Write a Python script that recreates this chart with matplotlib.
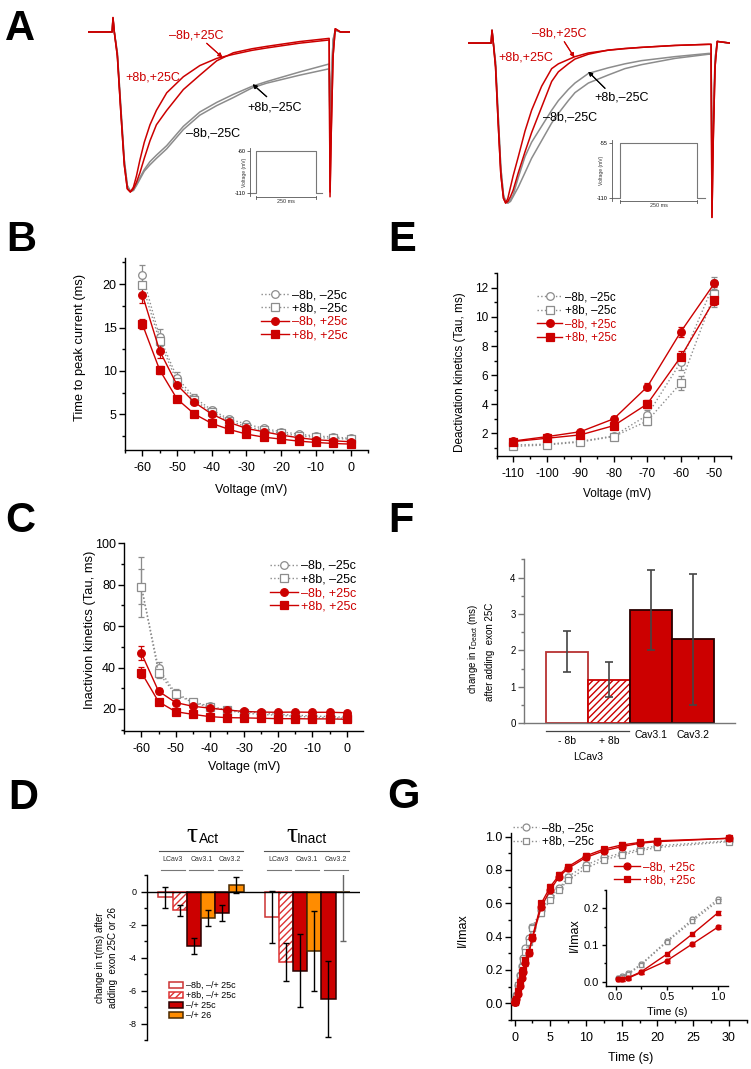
import numpy as np
import matplotlib.pyplot as plt
from matplotlib.ticker import MultipleLocator, FormatStrFormatter
from matplotlib.patches import Patch

plt.rcParams['font.family'] = ['Liberation Sans', 'DejaVu Sans']
plt.rcParams['axes.unicode_minus'] = False
plt.rcParams['mathtext.fontset'] = 'custom'
plt.rcParams['mathtext.rm'] = 'Liberation Sans'
plt.rcParams['mathtext.it'] = 'Liberation Sans:italic'
plt.rcParams['hatch.linewidth'] = 1.0

RED = '#cc0000'
GRAY = '#8c8c8c'
ORANGE = '#ff8c00'

# ---------------- data ----------------
# A: current traces (time in ms, normalised current)
a1_time = [-29, -1, 0, 1.5, 5, 9, 13, 16.5, 20, 23.5, 27, 31, 36, 42.6, 50, 61.9, 81, 100,
           119.5, 138.6, 160, 177, 215, 249, 250, 251.5, 253.5, 256, 262, 273]
a1_m8_m25 = [0, 0, 0.08, 0, -0.13, -0.47, -0.8, -0.96, -0.995, -0.99, -0.96, -0.92, -0.87,
             -0.83, -0.79, -0.73, -0.61, -0.52, -0.46, -0.41, -0.35, -0.32, -0.27, -0.23,
             -0.6, -0.3, -0.05, 0.01, 0, 0]
a1_p8_m25 = [0, 0, 0.08, 0, -0.13, -0.47, -0.8, -0.96, -0.995, -0.99, -0.95, -0.91, -0.86,
             -0.81, -0.77, -0.71, -0.59, -0.50, -0.44, -0.39, -0.34, -0.31, -0.25, -0.20,
             -0.6, -0.3, -0.05, 0.01, 0, 0]
a1_m8_p25 = [0, 0, 0.09, 0, -0.15, -0.5, -0.83, -0.98, -1.0, -0.98, -0.94, -0.88, -0.79,
             -0.68, -0.58, -0.49, -0.36, -0.27, -0.18, -0.13, -0.105, -0.09, -0.06, -0.04,
             -1.0, -0.6, -0.15, 0.02, 0, 0]
a1_p8_p25 = [0, 0, 0.09, 0, -0.15, -0.5, -0.83, -0.98, -1.0, -0.97, -0.9, -0.8, -0.69,
             -0.58, -0.49, -0.38, -0.28, -0.21, -0.165, -0.14, -0.115, -0.10, -0.07, -0.05,
             -1.03, -0.6, -0.15, 0.02, 0, 0]

a2_time = [-27, -1, 0, 1.5, 4, 7, 10, 13, 15.5, 18, 21, 24, 29.9, 37.5, 45, 56.4, 67.8, 75.4,
           86.7, 94.3, 109.5, 132, 151, 170, 208, 246, 249, 250, 251.5, 253.5, 256, 270]
a2_m8_m25 = [0, 0, 0.08, 0, -0.12, -0.45, -0.78, -0.95, -0.99, -1.0, -0.99, -0.96,
             -0.90, -0.81, -0.72, -0.61, -0.50, -0.44, -0.36, -0.31, -0.25, -0.20,
             -0.16, -0.135, -0.096, -0.07, -0.07, -0.8, -0.5, -0.1, 0.01, 0]
a2_p8_m25 = [0, 0, 0.08, 0, -0.12, -0.45, -0.78, -0.95, -0.99, -1.0, -0.98, -0.95,
             -0.84, -0.71, -0.62, -0.52, -0.42, -0.36, -0.29, -0.25, -0.19, -0.155,
             -0.13, -0.11, -0.085, -0.065, -0.065, -0.8, -0.5, -0.1, 0.01, 0]
a2_m8_p25 = [0, 0, 0.08, 0, -0.15, -0.5, -0.82, -0.97, -1.0, -0.99, -0.96, -0.92,
             -0.81, -0.68, -0.56, -0.40, -0.24, -0.18, -0.13, -0.10, -0.07, -0.044,
             -0.034, -0.027, -0.015, -0.008, -0.008, -1.09, -0.6, -0.15, 0.01, 0]
a2_p8_p25 = [0, 0, 0.08, 0, -0.15, -0.5, -0.82, -0.97, -1.0, -0.97, -0.9, -0.83,
             -0.71, -0.55, -0.42, -0.27, -0.16, -0.13, -0.103, -0.085, -0.062, -0.045,
             -0.035, -0.027, -0.015, -0.008, -0.008, -1.09, -0.6, -0.15, 0.01, 0]

step_time = [-25, 0, 0, 250, 250, 275]
step_v1 = [-110, -110, -60, -60, -110, -110]
step_v2 = [-110, -110, -55, -55, -110, -110]

# B: time to peak
volt_bc = [-60, -55, -50, -45, -40, -35, -30, -25, -20, -15, -10, -5, 0]
b_m8_m25 = [21.1, 13.85, 9.23, 6.92, 5.5, 4.46, 3.88, 3.38, 3.0, 2.73, 2.5, 2.42, 2.23]
b_p8_m25 = [19.9, 13.4, 8.77, 6.65, 5.23, 4.27, 3.58, 3.19, 2.8, 2.54, 2.35, 2.23, 2.15]
b_m8_p25 = [18.77, 12.3, 8.38, 6.38, 5.04, 4.08, 3.38, 3.0, 2.62, 2.31, 2.08, 1.96, 1.85]
b_p8_p25 = [15.38, 10.1, 6.77, 5.04, 3.96, 3.27, 2.73, 2.38, 2.15, 1.92, 1.77, 1.65, 1.58]
b_err_m8_m25 = [1.1, 1.0, 0.6, 0.4, 0.3, 0.3, 0.25, 0.2, 0.2, 0.2, 0.2, 0.2, 0.2]
b_err_p8_m25 = [1.0, 0.9, 0.5, 0.35, 0.3, 0.25, 0.2, 0.2, 0.2, 0.2, 0.2, 0.2, 0.2]
b_err_m8_p25 = [1.0, 0.8, 0.4, 0.3, 0.25, 0.2, 0.2, 0.2, 0.2, 0.2, 0.2, 0.2, 0.2]
b_err_p8_p25 = [0.6, 0.5, 0.3, 0.2, 0.15, 0.15, 0.15, 0.15, 0.15, 0.15, 0.15, 0.15, 0.15]

# C: inactivation kinetics
c_m8_m25 = [79.1, 39.6, 27.6, 23.5, 21.3, 19.6, 18.7, 18.0, 17.4, 17.0, 16.6, 16.3, 16.0]
c_p8_m25 = [79.0, 37.5, 27.0, 23.2, 20.8, 19.3, 18.0, 17.4, 16.9, 16.5, 16.0, 15.7, 15.5]
c_m8_p25 = [46.9, 28.6, 23.1, 21.3, 20.4, 19.5, 18.8, 18.5, 18.4, 18.5, 18.4, 18.4, 18.2]
c_p8_p25 = [37.6, 23.5, 18.7, 17.4, 16.3, 15.8, 15.7, 15.5, 15.3, 15.3, 15.2, 15.2, 15.0]
c_err_m8_m25 = [14.5, 3.0, 1.8, 1.2, 1.0, 0.8, 0.8, 0.8, 0.8, 0.8, 0.8, 0.8, 0.8]
c_err_p8_m25 = [8.5, 2.5, 1.5, 1.0, 0.8, 0.8, 0.8, 0.8, 0.8, 0.8, 0.8, 0.8, 0.8]
c_err_m8_p25 = [3.3, 1.5, 1.0, 0.8, 0.8, 0.8, 0.8, 0.8, 0.8, 0.8, 0.8, 0.8, 0.8]
c_err_p8_p25 = [2.6, 1.2, 0.8, 0.6, 0.6, 0.6, 0.6, 0.6, 0.6, 0.6, 0.6, 0.6, 0.6]

# E: deactivation kinetics
volt_e = [-110, -100, -90, -80, -70, -60, -50]
e_m8_m25 = [1.2, 1.25, 1.45, 1.82, 3.25, 6.9, 12.35]
e_p8_m25 = [1.1, 1.2, 1.4, 1.78, 2.85, 5.45, 11.6]
e_m8_p25 = [1.47, 1.77, 2.11, 3.0, 5.2, 8.98, 12.3]
e_p8_p25 = [1.43, 1.66, 1.89, 2.53, 4.02, 7.26, 11.15]
e_err_m8_m25 = [0.1, 0.1, 0.1, 0.1, 0.35, 0.55, 0.4]
e_err_p8_m25 = [0.1, 0.1, 0.1, 0.1, 0.3, 0.5, 0.9]
e_err_m8_p25 = [0.1, 0.15, 0.15, 0.2, 0.25, 0.35, 0.25]
e_err_p8_p25 = [0.1, 0.1, 0.15, 0.2, 0.3, 0.4, 0.35]

# D: change in tau
d_act = [-0.35, -1.15, -3.3, -1.6, -1.3, 0.4]
d_act_err = [0.65, 0.35, 0.5, 0.5, 0.5, 0.5]
d_inact = [-1.55, -4.25, -4.8, -3.6, -6.5, -0.05]
d_inact_err = [1.6, 1.15, 2.2, 2.4, 2.3, 2.95]
d_groups = ['LCav3', 'Cav3.1', 'Cav3.2']
d_legend = ['\u20138b, \u2013/+ 25c', '+8b, \u2013/+ 25c', '\u2013/+ 25c', '\u2013/+ 26']

# F: change in tau deact
f_labels = ['- 8b', '+ 8b', 'Cav3.1', 'Cav3.2']
f_vals = [1.97, 1.2, 3.1, 2.3]
f_err = [0.55, 0.48, 1.1, 1.8]

# G: recovery
g_time = [0.02, 0.06, 0.125, 0.25, 0.5, 0.75, 1.0, 1.25, 1.5, 2.0, 2.5, 3.75, 5.0,
          6.25, 7.5, 10, 12.5, 15, 17.5, 20, 30]
g_m8_m25 = [0.009, 0.015, 0.023, 0.048, 0.111, 0.170, 0.225, 0.27, 0.33, 0.39, 0.46, 0.56,
            0.64, 0.69, 0.76, 0.83, 0.875, 0.90, 0.925, 0.945, 0.975]
g_p8_m25 = [0.010, 0.013, 0.020, 0.046, 0.108, 0.165, 0.220, 0.26, 0.31, 0.37, 0.45, 0.54,
            0.62, 0.68, 0.74, 0.81, 0.86, 0.89, 0.915, 0.935, 0.97]
g_m8_p25 = [0.007, 0.008, 0.010, 0.025, 0.057, 0.103, 0.149, 0.19, 0.24, 0.30, 0.39, 0.58,
            0.68, 0.76, 0.81, 0.875, 0.915, 0.94, 0.96, 0.97, 0.99]
g_p8_p25 = [0.008, 0.008, 0.011, 0.027, 0.075, 0.130, 0.188, 0.20, 0.26, 0.31, 0.40, 0.60,
            0.70, 0.77, 0.82, 0.885, 0.925, 0.95, 0.965, 0.975, 0.99]
g_err = [0.005] * 7 + [0.015] * 14

SERIES = [('\u20138b, \u201325c', GRAY, 'o', ':', 'white'),
          ('+8b, \u201325c', GRAY, 's', ':', 'white'),
          ('\u20138b, +25c', RED, 'o', '-', RED),
          ('+8b, +25c', RED, 's', '-', RED)]
LEG_COLORS = ['black', 'black', RED, RED]

# ---------------- layout helpers ----------------
W, H = 751, 1069
fig = plt.figure(figsize=(W / 100, H / 100), dpi=100)


def box(x0, y0, x1, y1):
    return [x0 / W, 1 - y1 / H, (x1 - x0) / W, (y1 - y0) / H]


def fp(x, y):
    return (x / W, 1 - y / H)


def ftext(x, y, s, **kw):
    kw.setdefault('ha', 'center')
    kw.setdefault('va', 'center')
    fig.text(x / W, 1 - y / H, s, **kw)


def origin_style(ax, size=9, color='black', pad=4.5):
    for s in ('top', 'right'):
        ax.spines[s].set_visible(False)
    for s in ('left', 'bottom'):
        ax.spines[s].set_linewidth(1.0)
        ax.spines[s].set_color(color)
    ax.tick_params(which='both', direction='out', width=1.0, color=color, labelsize=size)
    ax.tick_params(which='major', length=4)
    ax.tick_params(which='minor', length=2.5)
    ax.tick_params(axis='x', pad=pad)
    ax.tick_params(axis='y', pad=2)


def draw_series(ax, x, ys, errs, ms=5.5, cap=2.5):
    handles = []
    for (label, color, marker, ls, mfc), y, e in zip(SERIES, ys, errs):
        ax.errorbar(x, y, yerr=e, fmt='none', ecolor=color, elinewidth=0.9,
                    capsize=cap, capthick=0.9, zorder=2)
        h, = ax.plot(x, y, ls=ls, color=color, lw=1.0, marker=marker, ms=ms,
                     mfc=mfc, mec=color, mew=0.9, label=label, zorder=3)
        handles.append(h)
    return handles


def legend_at(handles, x, y, fs, colors):
    fig.legend(handles=handles, loc='upper left', bbox_to_anchor=fp(x, y), frameon=False,
               fontsize=fs, handlelength=2.2, handletextpad=0.25, labelspacing=0.12,
               borderpad=0, borderaxespad=0, labelcolor=colors)


def panel_letter(x, y, s):
    fig.text(x / W, 1 - y / H, s, fontsize=30, fontweight='bold', ha='left', va='baseline')


# ---------------- A ----------------
axA1 = fig.add_axes(box(88, 15, 350, 200))
for vals, color in [(a1_m8_m25, GRAY), (a1_p8_m25, GRAY), (a1_m8_p25, RED), (a1_p8_p25, RED)]:
    axA1.plot(a1_time, vals, color=color, lw=1.1)
axA1.set_xlim(-28.8, 273)
axA1.set_ylim(-1.05, 0.106)
axA1.axis('off')

axA2 = fig.add_axes(box(468, 20, 730, 220))
for vals, color in [(a2_m8_m25, GRAY), (a2_p8_m25, GRAY), (a2_m8_p25, RED), (a2_p8_p25, RED)]:
    axA2.plot(a2_time, vals, color=color, lw=1.1)
axA2.set_xlim(-27.3, 270.5)
axA2.set_ylim(-1.106, 0.144)
axA2.axis('off')

for rect, xl, yl, vstep, ticks, lab_x, bar_y in [
        ((250, 148.5, 322, 195.5), (-25, 275), (-113, -57), step_v1, [-60, -110], 244, 197),
        ((612, 140, 703, 201), (-26, 269.5), (-113, -52), step_v2, [-55, -110], 601, 201)]:
    axi = fig.add_axes(box(*rect))
    axi.plot(step_time, vstep, color='#777777', lw=0.8, clip_on=False)
    axi.set_xlim(*xl)
    axi.set_ylim(*yl)
    for s in ('top', 'right', 'bottom'):
        axi.spines[s].set_visible(False)
    axi.spines['left'].set_linewidth(0.6)
    axi.spines['left'].set_color('#555555')
    axi.set_xticks([])
    axi.set_yticks(ticks)
    axi.tick_params(axis='y', length=2, width=0.6, labelsize=4, pad=1, color='#555555')
    axi.set_facecolor('none')
    ftext(lab_x, (rect[1] + rect[3]) / 2, 'Voltage (mV)', fontsize=3.6, rotation=90, color='#333333')
    x0 = rect[0] + (0 - xl[0]) / (xl[1] - xl[0]) * (rect[2] - rect[0])
    x1 = rect[0] + (250 - xl[0]) / (xl[1] - xl[0]) * (rect[2] - rect[0])
    fig.add_artist(plt.Line2D([x0 / W, x1 / W], [1 - bar_y / H] * 2, color='#555555', lw=0.6))
    for xe in (x0, x1):
        fig.add_artist(plt.Line2D([xe / W] * 2, [1 - (bar_y - 1.5) / H, 1 - (bar_y + 1.5) / H],
                                  color='#555555', lw=0.6))
    ftext((x0 + x1) / 2, bar_y + 4.5, '250 ms', fontsize=4, color='#333333')

# labels on traces
ftext(196, 35, '\u20138b,+25C', fontsize=9, color=RED)
ftext(153, 77, '+8b,+25C', fontsize=9, color=RED)
ftext(275, 108, '+8b,\u201325C', fontsize=9)
ftext(213, 133, '\u20138b,\u201325C', fontsize=9)
ftext(559, 33, '\u20138b,+25C', fontsize=9, color=RED)
ftext(526, 58, '+8b,+25C', fontsize=9, color=RED)
ftext(622, 97, '+8b,\u201325C', fontsize=9)
ftext(570, 118, '\u20138b,\u201325C', fontsize=9)
for (xa, ya), (xb, yb), col in [((206.7, 43.3), (222.3, 57.3), RED),
                                ((266.7, 96.7), (252.7, 84.3), 'black'),
                                ((564.3, 41.7), (574.3, 57.3), RED),
                                ((605, 88.3), (588.3, 71.7), 'black')]:
    fig.add_artist(plt.annotate('', xy=fp(xb, yb), xytext=fp(xa, ya), xycoords='figure fraction',
                                textcoords='figure fraction',
                                arrowprops=dict(arrowstyle='-|>', color=col, lw=0.8, mutation_scale=6,
                                                shrinkA=0, shrinkB=0)))

# ---------------- B ----------------
axB = fig.add_axes(box(125, 258, 368, 450))
hB = draw_series(axB, volt_bc, [b_m8_m25, b_p8_m25, b_m8_p25, b_p8_p25],
                 [b_err_m8_m25, b_err_p8_m25, b_err_m8_p25, b_err_p8_p25])
axB.set_xlim(-65, 5)
axB.set_ylim(0.9, 23)
axB.xaxis.set_major_locator(MultipleLocator(10))
axB.xaxis.set_minor_locator(MultipleLocator(5))
axB.yaxis.set_major_locator(MultipleLocator(5))
axB.yaxis.set_minor_locator(MultipleLocator(2.5))
origin_style(axB)
legend_at(hB, 261, 289, 9, LEG_COLORS)
ftext(80, 347, 'Time to peak current (ms)', fontsize=9.3, rotation=90)
ftext(251, 490, 'Voltage (mV)', fontsize=9)

# ---------------- E ----------------
axE = fig.add_axes(box(496.7, 273.3, 731, 455.7))
hE = draw_series(axE, volt_e, [e_m8_m25, e_p8_m25, e_m8_p25, e_p8_p25],
                 [e_err_m8_m25, e_err_p8_m25, e_err_m8_p25, e_err_p8_p25])
axE.set_xlim(-115, -45)
axE.set_ylim(0.46, 13)
axE.xaxis.set_major_locator(MultipleLocator(10))
axE.xaxis.set_minor_locator(MultipleLocator(5))
axE.yaxis.set_major_locator(MultipleLocator(2))
axE.yaxis.set_minor_locator(MultipleLocator(1))
origin_style(axE, size=8.5)
legend_at(hE, 537, 291.5, 8.3, LEG_COLORS)
ftext(460, 372, 'Deactivation kinetics (Tau, ms)', fontsize=8.5, rotation=90)
ftext(617, 494, 'Voltage (mV)', fontsize=8.5)

# ---------------- C ----------------
axC = fig.add_axes(box(124.3, 543.3, 362.7, 730.7))
hC = draw_series(axC, volt_bc, [c_m8_m25, c_p8_m25, c_m8_p25, c_p8_p25],
                 [c_err_m8_m25, c_err_p8_m25, c_err_m8_p25, c_err_p8_p25])
axC.set_xlim(-65, 4.7)
axC.set_ylim(9.5, 100)
axC.xaxis.set_major_locator(MultipleLocator(10))
axC.xaxis.set_minor_locator(MultipleLocator(5))
axC.yaxis.set_major_locator(MultipleLocator(20))
axC.yaxis.set_minor_locator(MultipleLocator(10))
origin_style(axC)
legend_at(hC, 270, 560, 9, LEG_COLORS)
ftext(90, 630, 'Inactivion kinetics (Tau, ms)', fontsize=9.3, rotation=90)
ftext(244, 767, 'Voltage (mV)', fontsize=9)

# ---------------- F ----------------
axF = fig.add_axes(box(524, 559.3, 735, 723.3))
f_x = np.arange(1, len(f_vals) + 1)
f_face = ['white', 'white', RED, RED]
f_edge = ['#b83232', RED, '#2a0000', '#2a0000']
f_hatch = [None, '/////', None, None]
for xi, v, fc, ec, ht in zip(f_x, f_vals, f_face, f_edge, f_hatch):
    axF.bar(xi, v, width=1.0, color=fc, edgecolor=ec, hatch=ht, linewidth=1.3, zorder=2)
axF.errorbar(f_x, f_vals, yerr=f_err, fmt='none', ecolor='#444444', elinewidth=1.2,
             capsize=3, capthick=1.2, zorder=3)
axF.set_xlim(-0.02, 5.0)
axF.set_ylim(0, 4.5)
axF.yaxis.set_major_locator(MultipleLocator(1))
axF.yaxis.set_minor_locator(MultipleLocator(0.5))
origin_style(axF, size=7, color='#777777')
axF.tick_params(axis='y', labelcolor='black')
axF.set_xticks([])
ftext(473, 649, r'change in $\tau_{\rm Deact}$ (ms)', fontsize=7, rotation=90)
ftext(490, 652, 'after adding  exon 25C', fontsize=7, rotation=90)
fig.add_artist(plt.Line2D([545.7 / W, 629.3 / W], [1 - 731 / H] * 2, color='#444444', lw=0.9))
for xi, lab in zip(f_x, f_labels):
    xpix = 524 + (xi + 0.02) / 5.02 * 211
    ftext(xpix, 741 if xi <= 2 else 735, lab, fontsize=7.5)
ftext(588, 757, 'LCav3', fontsize=7.5)

# ---------------- D ----------------
axD = fig.add_axes(box(146.7, 875, 360, 1040))
d_face = ['white', 'white', RED, ORANGE, RED, ORANGE]
d_edge = ['#cc3333', '#dd3333', '#2a0000', '#4a2a00', '#2a0000', '#4a2a00']
d_hatch = [None, '/////', None, None, None, None]
d_x_act = np.arange(len(d_act)) + 1.32
d_x_inact = np.arange(len(d_inact)) + 8.80
for xs, vals in [(d_x_act, d_act), (d_x_inact, d_inact)]:
    for xi, v, fc, ec, ht in zip(xs, vals, d_face, d_edge, d_hatch):
        axD.bar(xi, v, width=1.0, color=fc, edgecolor=ec, hatch=ht, linewidth=1.1, zorder=2)
axD.errorbar(d_x_act, d_act, yerr=d_act_err, fmt='none', ecolor='black', elinewidth=1.0,
             capsize=2.5, capthick=1.0, zorder=3)
axD.errorbar(d_x_inact[:5], d_inact[:5], yerr=d_inact_err[:5], fmt='none', ecolor='black',
             elinewidth=1.0, capsize=2.5, capthick=1.0, zorder=3)
axD.errorbar(d_x_inact[5:], d_inact[5:], yerr=d_inact_err[5:], fmt='none', ecolor='#666666',
             elinewidth=1.0, capsize=2.5, capthick=1.0, zorder=3)
axD.axhline(0, color='black', lw=1.0, zorder=4)
axD.set_xlim(0, 15.02)
axD.set_ylim(-9, 1)
axD.yaxis.set_major_locator(MultipleLocator(2))
axD.yaxis.set_minor_locator(MultipleLocator(1))
origin_style(axD, size=6.5)
axD.spines['bottom'].set_visible(False)
axD.set_xticks([])
axD.tick_params(axis='y', pad=3)
ftext(100, 958, 'change in \u03c4(ms) after', fontsize=7, rotation=90)
ftext(113, 957, 'adding  exon 25C or 26', fontsize=7, rotation=90)
fig.text(186.7 / W, 1 - 841.7 / H, '\u03c4', fontsize=20, family=['Liberation Serif', 'DejaVu Serif'],
         ha='left', va='baseline')
fig.text(199.3 / W, 1 - 843 / H, 'Act', fontsize=10, ha='left', va='baseline')
fig.text(286.7 / W, 1 - 841.7 / H, '\u03c4', fontsize=20, family=['Liberation Serif', 'DejaVu Serif'],
         ha='left', va='baseline')
fig.text(296.7 / W, 1 - 843 / H, 'Inact', fontsize=10, ha='left', va='baseline')
for start in (158.7, 264.3):
    fig.add_artist(plt.Line2D([start / W, (start + 84.5) / W], [1 - 851 / H] * 2, color='#555555', lw=0.8))
    for k, g in enumerate(d_groups):
        cx = start + 14.2 + k * 28.5
        ftext(cx, 859.5, g, fontsize=5, color='#333333')
        fig.add_artist(plt.Line2D([(cx - 12) / W, (cx + 12) / W], [1 - 870 / H] * 2,
                                  color='#777777', lw=0.8))
d_handles = [Patch(facecolor=fc, edgecolor=ec, hatch=ht, linewidth=1.1, label=lab)
             for fc, ec, ht, lab in zip(['white', 'white', RED, ORANGE],
                                        ['#cc3333', '#dd3333', '#2a0000', '#4a2a00'],
                                        [None, '/////', None, None], d_legend)]
fig.legend(handles=d_handles, loc='upper left', bbox_to_anchor=fp(169, 981), frameon=False,
           fontsize=6.5, handlelength=1.6, handleheight=0.7, handletextpad=0.25,
           labelspacing=0.12, borderpad=0, borderaxespad=0)

# ---------------- G ----------------
axG = fig.add_axes(box(511, 833.3, 746.7, 1020))
hG = draw_series(axG, g_time, [g_m8_m25, g_p8_m25, g_m8_p25, g_p8_p25], [g_err] * 4, ms=5)
axG.set_xlim(-0.5, 32.5)
axG.set_ylim(-0.1, 1.02)
axG.xaxis.set_major_locator(MultipleLocator(5))
axG.xaxis.set_minor_locator(MultipleLocator(2.5))
axG.yaxis.set_major_locator(MultipleLocator(0.2))
axG.yaxis.set_minor_locator(MultipleLocator(0.1))
axG.yaxis.set_major_formatter(FormatStrFormatter('%.1f'))
origin_style(axG)
legend_at(hG[:2], 513, 822.5, 8.5, ['black', 'black'])
legend_at(hG[2:], 614, 861, 8.5, [RED, RED])
ftext(463, 930, 'I/Imax', fontsize=9, rotation=90)
ftext(631, 1058, 'Time (s)', fontsize=9)

axGi = fig.add_axes(box(605.7, 890, 728.3, 986))
draw_series(axGi, g_time[:7], [g_m8_m25[:7], g_p8_m25[:7], g_m8_p25[:7], g_p8_p25[:7]],
            [g_err[:7]] * 4, ms=3.5, cap=1.8)
axGi.set_xlim(-0.097, 1.1)
axGi.set_ylim(-0.012, 0.25)
axGi.set_xticks([0.0, 0.5, 1.0])
axGi.set_yticks([0.0, 0.1, 0.2])
axGi.xaxis.set_minor_locator(MultipleLocator(0.25))
axGi.yaxis.set_minor_locator(MultipleLocator(0.05))
axGi.xaxis.set_major_formatter(FormatStrFormatter('%.1f'))
axGi.yaxis.set_major_formatter(FormatStrFormatter('%.1f'))
origin_style(axGi, size=8, pad=1)
axGi.tick_params(which='major', length=3)
axGi.tick_params(which='minor', length=1.8)
ftext(575, 935, 'I/Imax', fontsize=9, rotation=90)
ftext(667, 1012, 'Time (s)', fontsize=8)

# ---------------- panel letters ----------------
panel_letter(5, 40, 'A')
panel_letter(6, 251, 'B')
panel_letter(388, 251, 'E')
panel_letter(5, 532, 'C')
panel_letter(388, 532, 'F')
panel_letter(8, 809, 'D')
panel_letter(387, 808, 'G')

fig.savefig('out.png', dpi=100, facecolor='white')
